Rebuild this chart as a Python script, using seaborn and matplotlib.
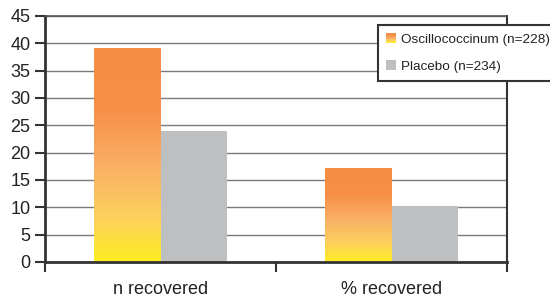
import numpy as np
import pandas as pd
import matplotlib
matplotlib.use("Agg")
import matplotlib.pyplot as plt
import seaborn as sns
from matplotlib.colors import LinearSegmentedColormap
from matplotlib.patches import Rectangle
from matplotlib.legend_handler import HandlerBase

categories = ["n recovered", "% recovered"]
groups = ["Oscillococcinum (n=228)", "Placebo (n=234)"]
oscillo_vals = [39, 17.1]
placebo_vals = [24, 10.3]

df = pd.DataFrame({
    "measure": categories * 2,
    "group": [groups[0]] * 2 + [groups[1]] * 2,
    "value": oscillo_vals + placebo_vals,
})

orange_grad = LinearSegmentedColormap.from_list(
    "og", [(0.0, "#f68d45"), (0.28, "#f68f47"), (0.55, "#f9b066"),
           (0.8, "#fdd15c"), (1.0, "#ffee22")])
gray = "#bebfc1"

sns.set_theme(style="white")
plt.rcParams["font.family"] = ["Liberation Sans", "DejaVu Sans"]

fig = plt.figure(figsize=(5.5, 3.01), dpi=100)
ax = fig.add_axes([45 / 550, 1 - 262 / 301, 462 / 550, 246 / 301])

sns.barplot(data=df, x="measure", y="value", hue="group",
            palette=["#f68d45", gray], width=0.58, saturation=1,
            linewidth=0, legend=False, ax=ax)

# gradient fill for the orange bars
grad = np.linspace(0, 1, 256).reshape(-1, 1)
for p in ax.patches[:2]:
    x0, y0 = p.get_x(), p.get_y()
    w, h = p.get_width(), p.get_height()
    ax.imshow(grad, cmap=orange_grad, aspect="auto",
              extent=(x0, x0 + w, y0, y0 + h), origin="upper", zorder=p.get_zorder() + 0.1)

ax.set_xlim(-0.5, 1.5)
ax.set_ylim(0, 45)
ax.set_yticks(range(0, 46, 5))
ax.yaxis.grid(True, color="#7a7a7a", lw=1)
ax.set_axisbelow(True)
ax.set_xlabel("")
ax.set_ylabel("")

ax.set_xticks([-0.5, 0.5, 1.5], minor=True)
ax.tick_params(axis="x", which="major", length=0, labelsize=13, pad=14, colors="#222")
ax.tick_params(axis="x", which="minor", length=7, width=1.5, direction="out", color="#333", bottom=True)
ax.tick_params(axis="y", length=7, width=1.5, direction="out", left=True, labelsize=13, colors="#222", color="#333")

for s in ["left", "bottom"]:
    ax.spines[s].set_color("#333")
    ax.spines[s].set_linewidth(2)
ax.spines["right"].set_color("#333")
ax.spines["right"].set_linewidth(1.5)
ax.spines["top"].set_color("#555")
ax.spines["top"].set_linewidth(1.2)


class GradHandler(HandlerBase):
    def create_artists(self, legend, orig_handle, xdescent, ydescent,
                       width, height, fontsize, trans):
        arts = []
        n = 12
        for i in range(n):
            c = orange_grad(1 - (i + 0.5) / n)
            r = Rectangle((-xdescent, -ydescent + height * i / n), width, height / n + 0.1,
                          facecolor=c, edgecolor="none", transform=trans)
            arts.append(r)
        return arts


h1 = Rectangle((0, 0), 1, 1)
h2 = Rectangle((0, 0), 1, 1, facecolor=gray, edgecolor="none")
leg = fig.legend([h1, h2], groups, handler_map={h1: GradHandler()},
                 loc="upper left", bbox_to_anchor=(378 / 550, 1 - 25 / 301),
                 bbox_transform=fig.transFigure, borderaxespad=0,
                 fontsize=9.7, frameon=True, fancybox=False, framealpha=1,
                 handlelength=0.7, handleheight=0.7, handletextpad=0.4,
                 labelspacing=1.1, borderpad=0.6)
leg.get_frame().set_edgecolor("#333")
leg.get_frame().set_linewidth(1.5)
for t in leg.get_texts():
    t.set_color("#222")

fig.savefig("out.png", dpi=100)
